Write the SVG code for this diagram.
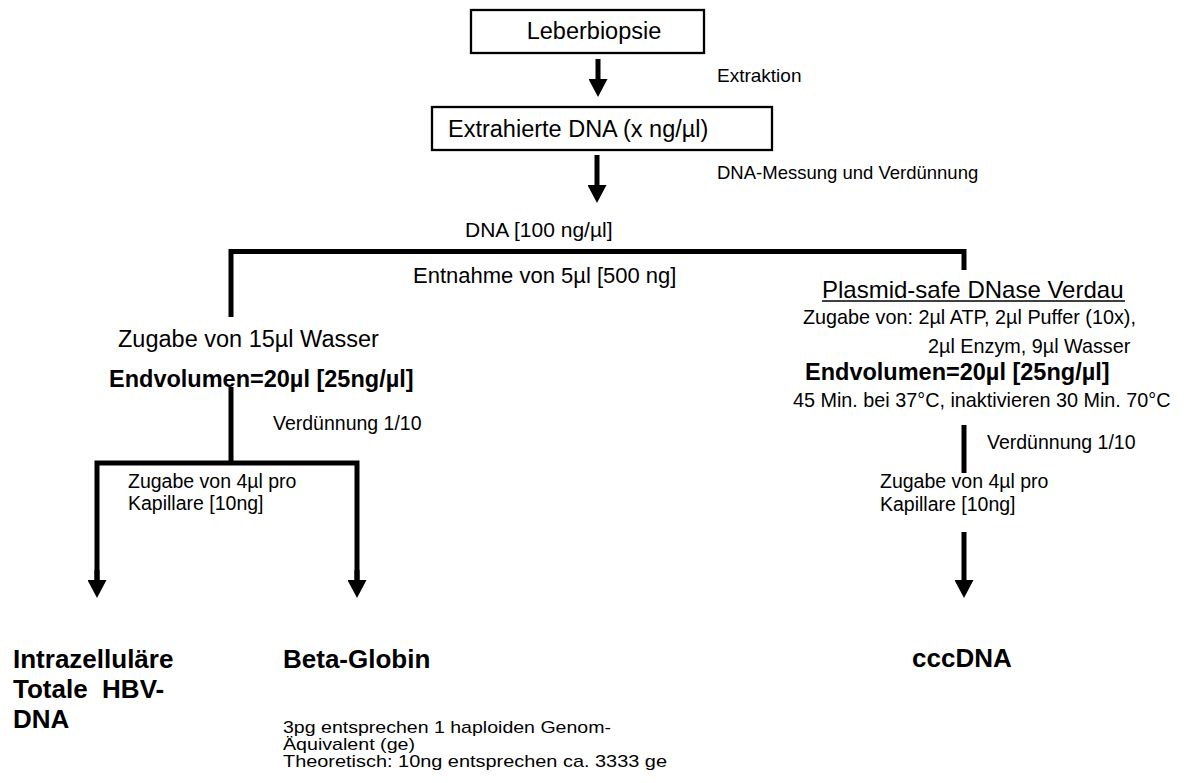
<svg xmlns="http://www.w3.org/2000/svg" width="1184" height="783" viewBox="0 0 1184 783">
<style>
text{font-family:"Liberation Sans",Arial,sans-serif;fill:#000}
.b{font-weight:bold}
.box{fill:#fff;stroke:#000;stroke-width:2.3}
.ln{fill:none;stroke:#000;stroke-width:5;stroke-linejoin:miter}
.pre{white-space:pre}
</style>
<defs>
<marker id="ah" markerUnits="userSpaceOnUse" markerWidth="18" markerHeight="19" viewBox="0 0 18 19" refX="0" refY="9.5" orient="auto">
<path d="M0,0 L18,9.5 L0,19 Z" fill="#000"/>
</marker>
</defs>
<rect width="1184" height="783" fill="#fff"/>
<g id="connectors">
<line class="ln" x1="598" y1="59" x2="598" y2="79" marker-end="url(#ah)"/>
<line class="ln" x1="597" y1="155" x2="597" y2="185" marker-end="url(#ah)"/>
<path class="ln" d="M231,317 V251.5 H964 V270"/>
<line class="ln" x1="231" y1="387" x2="231" y2="463"/>
<path class="ln" d="M97,580 V463 H357 V580"/>
<line class="ln" x1="97" y1="570" x2="97" y2="580" marker-end="url(#ah)"/>
<line class="ln" x1="357" y1="570" x2="357" y2="580" marker-end="url(#ah)"/>
<line class="ln" x1="964" y1="425" x2="964" y2="473"/>
<line class="ln" x1="964" y1="532" x2="964" y2="580" marker-end="url(#ah)"/>
</g>
<g id="n-leberbiopsie">
<rect class="box" x="471" y="10" width="233" height="43"/>
<text x="594" y="39" font-size="23.5" text-anchor="middle">Leberbiopsie</text>
</g>
<g id="n-extraktion-label">
<text x="717" y="82" font-size="19">Extraktion</text>
</g>
<g id="n-extrahierte">
<rect class="box" x="432" y="107" width="340" height="43"/>
<text x="448" y="137" font-size="23.5">Extrahierte DNA (x ng/µl)</text>
</g>
<g id="n-messung-label">
<text x="717" y="179" font-size="18.5">DNA-Messung und Verdünnung</text>
</g>
<g id="n-dna100">
<text x="465" y="237" font-size="21">DNA [100 ng/µl]</text>
<text x="413" y="283" font-size="22">Entnahme von 5µl [500 ng]</text>
</g>
<g id="n-left">
<text x="118" y="347" font-size="23.5">Zugabe von 15µl Wasser</text>
<text class="b" x="109" y="387" font-size="23.5">Endvolumen=20µl [25ng/µl]</text>
<text x="273" y="430" font-size="19.5">Verdünnung 1/10</text>
<text x="128" y="488" font-size="19.5">Zugabe von 4µl pro</text>
<text x="128" y="510" font-size="19.5">Kapillare [10ng]</text>
</g>
<g id="n-right">
<text x="822" y="298" font-size="24">Plasmid-safe DNase Verdau</text>
<line x1="822" y1="301" x2="1125" y2="301" stroke="#000" stroke-width="1.5"/>
<text x="803" y="324" font-size="19.8">Zugabe von: 2µl ATP, 2µl Puffer (10x),</text>
<text x="928" y="353" font-size="19.8">2µl Enzym, 9µl Wasser</text>
<text class="b" x="805" y="380" font-size="23.5">Endvolumen=20µl [25ng/µl]</text>
<text x="793" y="407" font-size="19.8">45 Min. bei 37°C, inaktivieren 30 Min. 70°C</text>
<text x="987" y="449" font-size="19.5">Verdünnung 1/10</text>
<text x="880" y="488" font-size="19.5">Zugabe von 4µl pro</text>
<text x="880" y="511" font-size="19.5">Kapillare [10ng]</text>
</g>
<g id="n-hbv">
<text class="b" x="13" y="668" font-size="26">Intrazelluläre</text>
<text class="b pre" x="13" y="698" font-size="26">Totale  HBV-</text>
<text class="b" x="13" y="728" font-size="26">DNA</text>
</g>
<g id="n-betaglobin">
<text class="b" x="283" y="668" font-size="26">Beta-Globin</text>
<text x="283" y="733" font-size="17" textLength="328" lengthAdjust="spacingAndGlyphs">3pg entsprechen 1 haploiden Genom-</text>
<text x="283" y="750" font-size="17" textLength="132" lengthAdjust="spacingAndGlyphs">Äquivalent (ge)</text>
<text x="283" y="767" font-size="17" textLength="384" lengthAdjust="spacingAndGlyphs">Theoretisch: 10ng entsprechen ca. 3333 ge</text>
</g>
<g id="n-cccdna">
<text class="b" x="912" y="667" font-size="26">cccDNA</text>
</g>
</svg>
